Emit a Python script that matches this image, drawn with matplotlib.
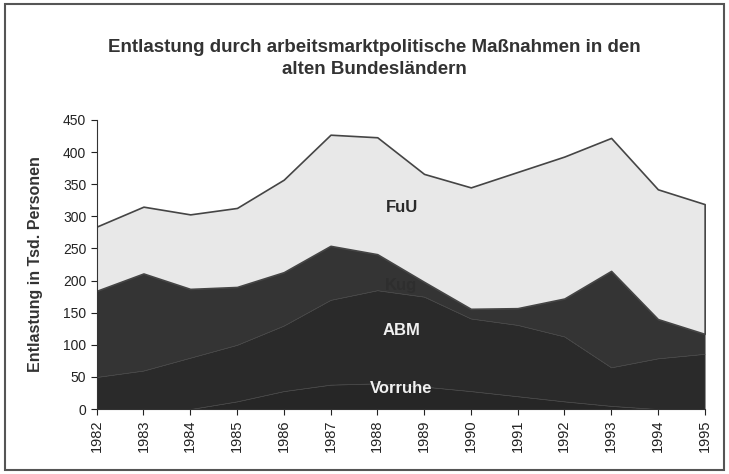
#!/usr/bin/env python3
import matplotlib
matplotlib.use("Agg")
import matplotlib.pyplot as plt
from matplotlib.patches import Rectangle

# ------------------------
# Dane (tys. osób)
# ------------------------
years = [1982, 1983, 1984, 1985, 1986, 1987, 1988, 1989, 1990, 1991, 1992, 1993, 1994, 1995]
vorruhe = [0, 0, 0, 12, 28, 38, 40, 35, 28, 20, 12, 5, 0, 0]
abm = [50, 60, 80, 88, 102, 132, 145, 140, 113, 111, 101, 60, 79, 86]
kug = [134, 151, 107, 90, 83, 84, 56, 23, 15, 26, 59, 150, 61, 31]
fuu = [100, 104, 116, 123, 144, 173, 182, 168, 189, 212, 221, 207, 202, 202]
series_names = ["Vorruhe", "ABM", "Kug", "FuU"]
y_ticks = list(range(0, 451, 50))

plt.rcParams['font.family'] = ['Liberation Sans', 'DejaVu Sans']

fig = plt.figure(figsize=(7.29, 4.74), dpi=100)
ax = fig.add_axes([0.1326, 0.137, 0.834, 0.61])

polys = ax.stackplot(years, vorruhe, abm, kug, fuu,
                     colors=["#262626", "#2a2a2a", "#343434", "#e8e8e8"],
                     labels=series_names)
for p in polys[:3]:
    p.set_edgecolor("#474747")
    p.set_linewidth(0.5)
polys[3].set_edgecolor("#454545")
polys[3].set_linewidth(1.2)

# Etykiety serii wewnątrz obszarów (Kug prawie niewidoczny, jak w oryginale)
ax.text(1988.52, 313, "FuU", ha="center", va="center", fontsize=12,
        fontweight="bold", color="#2a2a2a")
ax.text(1988.5, 192, "Kug", ha="center", va="center", fontsize=12,
        fontweight="bold", color="#2e2e2e")
ax.text(1988.52, 123, "ABM", ha="center", va="center", fontsize=12,
        fontweight="bold", color="#f0f0f0")
ax.text(1988.52, 32, "Vorruhe", ha="center", va="center", fontsize=12,
        fontweight="bold", color="#f0f0f0")

# Osie
ax.set_xlim(1982, 1995)
ax.set_ylim(0, 450)
ax.set_yticks(y_ticks)
ax.set_xticks(years)
ax.set_xticklabels([str(y) for y in years], rotation=90)
ax.tick_params(axis="y", labelsize=10)
ax.tick_params(axis="x", labelsize=10.5)
ax.tick_params(axis="both", direction="out", colors="#222222",
               length=4, width=0.8)
for side in ["top", "right"]:
    ax.spines[side].set_visible(False)
for side in ["left", "bottom"]:
    ax.spines[side].set_color("#333333")
    ax.spines[side].set_linewidth(0.8)
ax.set_ylabel("Entlastung in Tsd. Personen", fontsize=11.5, fontweight="bold",
              color="#333333", labelpad=14)

# Tytuł
fig.text(0.513, 0.877, "Entlastung durch arbeitsmarktpolitische Maßnahmen in den\nalten Bundesländern",
         ha="center", va="center", fontsize=13.5, fontweight="bold", color="#333333",
         linespacing=1.4)

# Ramka wokół wykresu
fig.patches.append(Rectangle((5 / 729, 4 / 474), 719 / 729, 466 / 474,
                             transform=fig.transFigure, fill=False,
                             edgecolor="#555555", linewidth=1.5))

fig.savefig("out.png", dpi=100)
